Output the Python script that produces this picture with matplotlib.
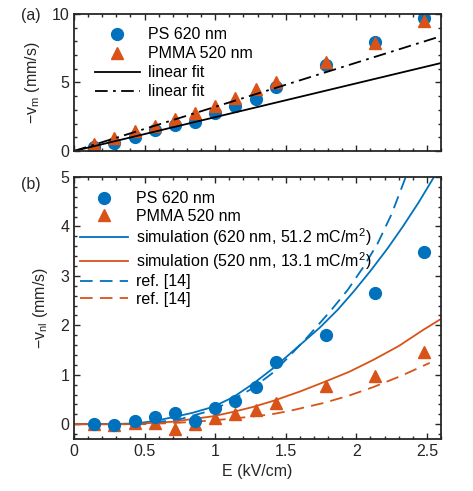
import matplotlib
matplotlib.use('Agg')
import matplotlib.pyplot as plt
from matplotlib.ticker import MultipleLocator

plt.rcParams['font.family'] = ['Liberation Sans', 'DejaVu Sans']
plt.rcParams['mathtext.fontset'] = 'custom'
plt.rcParams['mathtext.rm'] = 'Liberation Sans'
plt.rcParams['mathtext.it'] = 'Liberation Sans'

blue = '#0072BD'
orange = '#D95319'
dark = '#262626'

# field strengths (kV/cm)
E = [0.143, 0.286, 0.429, 0.571, 0.714, 0.857, 1.0, 1.143, 1.286, 1.429, 1.786, 2.13, 2.48]

# panel (a): -v_m (mm/s)
vm_ps = [0.3, 0.6, 1.0, 1.5, 1.9, 2.15, 2.75, 3.25, 3.8, 4.65, 6.25, 7.95, 9.7]
vm_pmma = [0.5, 0.95, 1.45, 1.8, 2.3, 2.8, 3.3, 3.85, 4.5, 5.0, 6.5, 7.9, 9.5]
fit_E = [0, 2.6]
fit_ps = [0, 6.42]
fit_pmma = [0, 8.38]

# panel (b): -v_nl (mm/s)
vnl_ps = [0.0, -0.02, 0.06, 0.15, 0.22, 0.06, 0.33, 0.47, 0.75, 1.25, 1.81, 2.65, 3.48]
vnl_ps_err = [0.02, 0.02, 0.02, 0.02, 0.03, 0.03, 0.03, 0.04, 0.05, 0.06, 0.05, 0.05, 0.07]
vnl_pmma = [0.0, -0.02, 0.03, 0.02, -0.1, 0.0, 0.13, 0.2, 0.28, 0.43, 0.77, 0.97, 1.45]

sim_ps_E = [0, 0.3, 0.45, 0.56, 0.70, 0.84, 0.985, 1.13, 1.27, 1.41, 1.50, 1.60, 1.74,
            1.87, 1.98, 2.10, 2.22, 2.33, 2.44, 2.55]
sim_ps = [0, 0.0, 0.02, 0.06, 0.14, 0.23, 0.35, 0.55, 0.82, 1.13, 1.35, 1.60, 1.95,
          2.32, 2.68, 3.10, 3.55, 4.0, 4.48, 5.0]
sim_pmma_E = [0, 0.4, 0.70, 0.985, 1.13, 1.27, 1.41, 1.60, 1.77, 1.95, 2.12, 2.3, 2.47, 2.6]
sim_pmma = [0, 0.0, 0.05, 0.16, 0.25, 0.35, 0.47, 0.66, 0.85, 1.06, 1.30, 1.58, 1.90, 2.13]
ref_ps_E = [0, 0.5, 0.75, 1.0, 1.25, 1.4, 1.5, 1.65, 1.82, 1.94, 2.05, 2.15, 2.25, 2.35]
ref_ps = [0, 0.01, 0.1, 0.3, 0.7, 1.02, 1.3, 1.75, 2.30, 2.72, 3.18, 3.65, 4.25, 5.0]
ref_pmma_E = [0, 0.5, 0.75, 1.0, 1.25, 1.4, 1.53, 1.77, 1.95, 2.12, 2.32, 2.52]
ref_pmma = [0, 0.0, 0.03, 0.08, 0.15, 0.2, 0.27, 0.43, 0.58, 0.75, 0.98, 1.24]

fig = plt.figure(figsize=(4.73, 4.91), dpi=100)
ax1 = fig.add_axes([0.1565, 0.6925, 0.7759, 0.279])
ax2 = fig.add_axes([0.1565, 0.1059, 0.7759, 0.5336])

fs = 11.5
ms = 8.5

ax1.plot(E, vm_ps, 'o', color=blue, ms=ms, label='PS 620 nm')
ax1.plot(E, vm_pmma, '^', color=orange, ms=ms, label='PMMA 520 nm')
ax1.plot(fit_E, fit_ps, '-', color='k', lw=1.3, label='linear fit')
ax1.plot(fit_E, fit_pmma, color='k', lw=1.3, dashes=(7, 3, 1.5, 3), label='linear fit')
ax1.set_xlim(0, 2.6)
ax1.set_ylim(0, 10)
ax1.set_yticks([0, 5, 10])
ax1.yaxis.set_minor_locator(MultipleLocator(1))
ax1.set_xticklabels([])
ax1.set_ylabel(r'$-$v$_\mathrm{m}$ (mm/s)', fontsize=fs, color=dark, labelpad=7)
ax1.legend(loc='upper left', frameon=False, fontsize=fs, handlelength=2.8,
           handletextpad=0.5, borderaxespad=0.0, labelspacing=0.25,
           bbox_to_anchor=(0.04, 0.95))

h_ps = ax2.errorbar(E, vnl_ps, yerr=vnl_ps_err, fmt='o', color=blue, ms=ms, capsize=2,
                    elinewidth=1)
h_pmma, = ax2.plot(E, vnl_pmma, '^', color=orange, ms=ms)
h_s1, = ax2.plot(sim_ps_E, sim_ps, '-', color=blue, lw=1.3)
h_s2, = ax2.plot(sim_pmma_E, sim_pmma, '-', color=orange, lw=1.3)
h_r1, = ax2.plot(ref_ps_E, ref_ps, color=blue, lw=1.3, dashes=(7, 4))
h_r2, = ax2.plot(ref_pmma_E, ref_pmma, color=orange, lw=1.3, dashes=(7, 4))
ax2.set_xlim(0, 2.6)
ax2.set_ylim(-0.3, 5)
ax2.set_xticks([0, 0.5, 1, 1.5, 2, 2.5])
ax2.set_xticklabels(['0', '0.5', '1', '1.5', '2', '2.5'])
ax2.set_yticks([0, 1, 2, 3, 4, 5])
ax2.yaxis.set_minor_locator(MultipleLocator(0.2))
ax2.set_xlabel('E (kV/cm)', fontsize=fs, color=dark)
ax2.set_ylabel(r'$-$v$_\mathrm{nl}$ (mm/s)', fontsize=fs, color=dark, labelpad=7)
ax2.legend([h_ps[0], h_pmma, h_s1, h_s2, h_r1, h_r2],
           ['PS 620 nm', 'PMMA 520 nm', 'simulation (620 nm, 51.2 mC/m$^2$)',
            'simulation (520 nm, 13.1 mC/m$^2$)', 'ref. [14]', 'ref. [14]'],
           loc='upper left', frameon=False, fontsize=fs, handlelength=3.0,
           handletextpad=0.45, borderaxespad=0.0, labelspacing=0.15,
           bbox_to_anchor=(0.0, 0.97))

for ax in (ax1, ax2):
    ax.xaxis.set_minor_locator(MultipleLocator(0.1))
    ax.tick_params(which='both', direction='in', top=True, right=True, labelsize=fs,
                   width=1.0, color=dark, labelcolor=dark)
    ax.tick_params(which='major', length=4)
    ax.tick_params(which='minor', length=2.5)
    for s in ax.spines.values():
        s.set_linewidth(1.3)
        s.set_color(dark)

fig.text(0.045, 0.968, '(a)', fontsize=fs, va='center', color=dark)
fig.text(0.045, 0.625, '(b)', fontsize=fs, va='center', color=dark)

fig.savefig('out.png', dpi=100)
